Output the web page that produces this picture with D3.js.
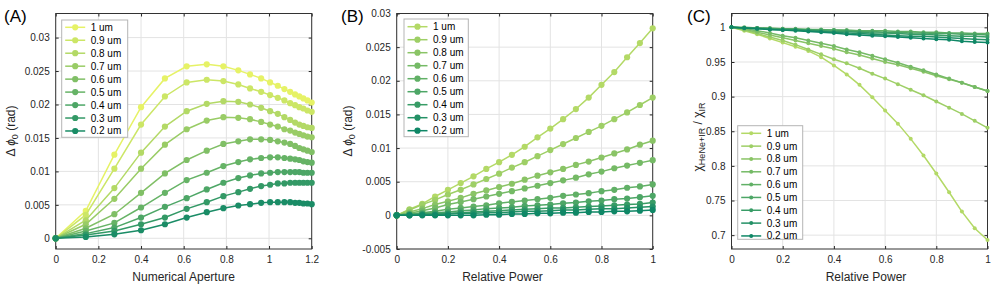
<!DOCTYPE html>
<html>
<head>
<meta charset="utf-8">
<script src="https://cdn.jsdelivr.net/npm/d3@7"></script>
<style>
body { margin: 0; background: #fff; }
svg { display: block; font-family: "Liberation Sans", Arial, sans-serif; }
</style>
</head>
<body>
<svg id="fig" width="997" height="285"></svg>
<script>
// legend labels, same order for all three panels
const sizes = ["1 um", "0.9 um", "0.8 um", "0.7 um", "0.6 um", "0.5 um", "0.4 um", "0.3 um", "0.2 um"]

// (A) phase shift vs numerical aperture
const naValues = [0, 0.141, 0.275, 0.4, 0.512, 0.614, 0.708, 0.786, 0.856, 0.911, 0.963, 1.005, 1.041, 1.072, 1.099, 1.122, 1.142, 1.161, 1.18, 1.2]
const naPhase = [
    [0, 0.0041, 0.0125, 0.0196, 0.0239, 0.0257, 0.0260, 0.0257, 0.0251, 0.0245, 0.0239, 0.0233, 0.0228, 0.0223, 0.0219, 0.0215, 0.0212, 0.0209, 0.0206, 0.0203],
    [0, 0.0035, 0.0104, 0.0170, 0.0212, 0.0233, 0.0237, 0.0235, 0.0230, 0.0224, 0.0219, 0.0214, 0.0210, 0.0206, 0.0202, 0.0199, 0.0196, 0.0194, 0.0191, 0.0189],
    [0, 0.0027, 0.0075, 0.0128, 0.0167, 0.0190, 0.0201, 0.0205, 0.0204, 0.0200, 0.0195, 0.0190, 0.0186, 0.0181, 0.0177, 0.0173, 0.0170, 0.0168, 0.0166, 0.0165],
    [0, 0.0021, 0.0059, 0.0104, 0.0140, 0.0163, 0.0176, 0.0181, 0.0180, 0.0178, 0.0174, 0.0170, 0.0167, 0.0163, 0.0161, 0.0158, 0.0156, 0.0154, 0.0152, 0.0151],
    [0, 0.0015, 0.0036, 0.0068, 0.0097, 0.0117, 0.0131, 0.0141, 0.0145, 0.0148, 0.0148, 0.0147, 0.0145, 0.0143, 0.0141, 0.0138, 0.0135, 0.0133, 0.0131, 0.0129],
    [0, 0.0011, 0.0023, 0.0046, 0.0068, 0.0087, 0.0098, 0.0108, 0.0114, 0.0118, 0.0120, 0.0121, 0.0121, 0.0120, 0.0119, 0.0118, 0.0117, 0.0115, 0.0114, 0.0113],
    [0, 0.0007, 0.0016, 0.0031, 0.0047, 0.0060, 0.0073, 0.0083, 0.0090, 0.0094, 0.0097, 0.0098, 0.0099, 0.0099, 0.0099, 0.0099, 0.0099, 0.0098, 0.0098, 0.0098],
    [0, 0.0005, 0.0011, 0.0021, 0.0031, 0.0044, 0.0054, 0.0063, 0.0069, 0.0074, 0.0078, 0.0080, 0.0082, 0.0082, 0.0083, 0.0083, 0.0083, 0.0083, 0.0083, 0.0083],
    [0, 0.0002, 0.0006, 0.0012, 0.0021, 0.0031, 0.0039, 0.0045, 0.0049, 0.0051, 0.0053, 0.0054, 0.0054, 0.0054, 0.0054, 0.0053, 0.0053, 0.0052, 0.0052, 0.0051]
]

// (B) and (C) share the relative power axis
const powerValues = [0, 0.05, 0.1, 0.15, 0.2, 0.25, 0.3, 0.35, 0.4, 0.45, 0.5, 0.55, 0.6, 0.65, 0.7, 0.75, 0.8, 0.85, 0.9, 0.95, 1]
const powerPhase = [
    [0, 0.0009, 0.0017, 0.0028, 0.0038, 0.0048, 0.0058, 0.0069, 0.0079, 0.0090, 0.0102, 0.0116, 0.0129, 0.0143, 0.0158, 0.0175, 0.0194, 0.0213, 0.0235, 0.0256, 0.0278],
    [0, 0.0008, 0.0016, 0.0023, 0.0031, 0.0038, 0.0046, 0.0054, 0.0062, 0.0071, 0.0079, 0.0088, 0.0097, 0.0106, 0.0115, 0.0124, 0.0133, 0.0143, 0.0153, 0.0164, 0.0175],
    [0, 0.0005, 0.0010, 0.0016, 0.0021, 0.0026, 0.0032, 0.0037, 0.0042, 0.0047, 0.0053, 0.0059, 0.0064, 0.0069, 0.0075, 0.0080, 0.0086, 0.0092, 0.0098, 0.0105, 0.0111],
    [0, 0.0003, 0.0007, 0.0011, 0.0016, 0.0020, 0.0024, 0.0028, 0.0032, 0.0036, 0.0040, 0.0044, 0.0048, 0.0052, 0.0056, 0.0061, 0.0065, 0.0070, 0.0074, 0.0078, 0.0082],
    [0, 0.0002, 0.0004, 0.0006, 0.0009, 0.0011, 0.0013, 0.0015, 0.0018, 0.0020, 0.0022, 0.0024, 0.0026, 0.0029, 0.0031, 0.0033, 0.0036, 0.0038, 0.0041, 0.0043, 0.0046],
    [0, 0.0001, 0.0003, 0.0004, 0.0005, 0.0007, 0.0008, 0.0010, 0.0011, 0.0012, 0.0014, 0.0015, 0.0016, 0.0018, 0.0019, 0.0021, 0.0022, 0.0024, 0.0025, 0.0027, 0.0029],
    [0, 0.0001, 0.0002, 0.0003, 0.0003, 0.0004, 0.0005, 0.0006, 0.0007, 0.0008, 0.0009, 0.0010, 0.0011, 0.0011, 0.0012, 0.0013, 0.0014, 0.0015, 0.0016, 0.0017, 0.0019],
    [0, 0.0000, 0.0001, 0.0001, 0.0002, 0.0003, 0.0003, 0.0004, 0.0004, 0.0005, 0.0006, 0.0006, 0.0007, 0.0008, 0.0008, 0.0009, 0.0010, 0.0010, 0.0011, 0.0012, 0.0013],
    [0, 0, 0, 0, 0, 0, 0, 0.0001, 0.0001, 0.0002, 0.0002, 0.0003, 0.0003, 0.0004, 0.0004, 0.0005, 0.0005, 0.0006, 0.0006, 0.0007, 0.0008]
]
const powerRatio = [
    [1, 0.995, 0.990, 0.984, 0.978, 0.972, 0.966, 0.957, 0.945, 0.932, 0.917, 0.899, 0.880, 0.861, 0.839, 0.815, 0.789, 0.762, 0.734, 0.710, 0.693],
    [1, 0.996, 0.991, 0.986, 0.981, 0.975, 0.968, 0.961, 0.954, 0.948, 0.941, 0.933, 0.926, 0.918, 0.910, 0.902, 0.893, 0.884, 0.875, 0.865, 0.855],
    [1, 0.997, 0.993, 0.989, 0.985, 0.981, 0.977, 0.973, 0.969, 0.964, 0.960, 0.955, 0.950, 0.946, 0.941, 0.936, 0.930, 0.925, 0.920, 0.914, 0.908],
    [1, 0.998, 0.995, 0.992, 0.988, 0.985, 0.981, 0.977, 0.973, 0.968, 0.964, 0.959, 0.954, 0.949, 0.943, 0.938, 0.932, 0.926, 0.920, 0.914, 0.908],
    [1, 1.000, 0.999, 0.999, 0.998, 0.998, 0.997, 0.997, 0.996, 0.996, 0.995, 0.995, 0.995, 0.994, 0.994, 0.993, 0.993, 0.992, 0.992, 0.991, 0.991],
    [1, 0.999, 0.999, 0.998, 0.998, 0.997, 0.997, 0.996, 0.996, 0.995, 0.994, 0.994, 0.993, 0.993, 0.992, 0.992, 0.991, 0.991, 0.990, 0.990, 0.989],
    [1, 0.999, 0.999, 0.998, 0.997, 0.997, 0.996, 0.995, 0.994, 0.994, 0.993, 0.992, 0.992, 0.991, 0.990, 0.990, 0.989, 0.988, 0.987, 0.987, 0.986],
    [1, 0.999, 0.998, 0.997, 0.996, 0.996, 0.995, 0.994, 0.993, 0.992, 0.991, 0.990, 0.989, 0.988, 0.987, 0.987, 0.986, 0.985, 0.984, 0.983, 0.982],
    [1, 0.999, 0.998, 0.997, 0.996, 0.995, 0.994, 0.993, 0.992, 0.990, 0.989, 0.988, 0.987, 0.986, 0.985, 0.984, 0.983, 0.982, 0.980, 0.979, 0.978]
]

const naTicks = [0, 0.2, 0.4, 0.6, 0.8, 1, 1.2]
const powerTicks = [0, 0.2, 0.4, 0.6, 0.8, 1]
const phaseTicksA = [0, 0.005, 0.01, 0.015, 0.02, 0.025, 0.03]
const phaseTicksB = [-0.005, 0, 0.005, 0.01, 0.015, 0.02, 0.025, 0.03]
const ratioTicks = [0.7, 0.75, 0.8, 0.85, 0.9, 0.95, 1]

// matlab "summer" colormap
const summer = t => d3.rgb(255 * t, 255 * (0.5 + 0.5 * t), 102).formatHex()
const colorsA = [0.9, 0.8, 0.7, 0.6, 0.5, 0.4, 0.3, 0.2, 0.1].map(summer)
const colorsBC = [0.7, 0.62, 0.54, 0.46, 0.38, 0.3, 0.22, 0.14, 0.06].map(summer)

const svg = d3.select("#fig")
const TEXT = "#262626"
const TOP = 13.5, BOTTOM = 249

function drawPanel(p) {
    const x = d3.scaleLinear().domain(p.xDomain).range([p.left, p.right])
    const y = d3.scaleLinear().domain(p.yDomain).range([BOTTOM, TOP])
    const g = svg.append("g")

    // grid
    g.append("g").attr("stroke", "#e3e3e3").attr("stroke-width", 1)
        .selectAll("line").data(p.xTicks).join("line")
        .attr("x1", d => x(d)).attr("x2", d => x(d)).attr("y1", TOP).attr("y2", BOTTOM)
    g.append("g").attr("stroke", "#e3e3e3").attr("stroke-width", 1)
        .selectAll("line").data(p.yTicks).join("line")
        .attr("x1", p.left).attr("x2", p.right).attr("y1", d => y(d)).attr("y2", d => y(d))

    // axes, ticks pointing inward on all four sides
    const axes = [
        [d3.axisBottom(x).tickValues(p.xTicks).tickFormat(d => String(d)), `translate(0,${BOTTOM})`],
        [d3.axisTop(x).tickValues(p.xTicks).tickFormat(""), `translate(0,${TOP})`],
        [d3.axisLeft(y).tickValues(p.yTicks).tickFormat(d => String(d)), `translate(${p.left},0)`],
        [d3.axisRight(y).tickValues(p.yTicks).tickFormat(""), `translate(${p.right},0)`]
    ]
    axes.forEach(([ax, tr], i) => {
        const a = g.append("g").attr("transform", tr)
            .call(ax.tickSizeInner(-3).tickSizeOuter(0).tickPadding(i == 0 ? 7 : 6))
        a.select(".domain").remove()
        a.selectAll("line").attr("stroke", TEXT)
        a.selectAll("text").attr("fill", TEXT).attr("font-size", 10)
            .attr("font-family", "Liberation Sans, Arial, sans-serif")
    })

    g.append("rect")
        .attr("x", p.left).attr("y", TOP)
        .attr("width", p.right - p.left).attr("height", BOTTOM - TOP)
        .attr("fill", "none").attr("stroke", "#333").attr("stroke-width", 1)

    // series
    const line = d3.line().x(d => x(d[0])).y(d => y(d[1]))
    p.series.forEach((vals, i) => {
        const pts = p.xs.map((v, j) => [v, vals[j]])
        g.append("path").datum(pts)
            .attr("d", line).attr("fill", "none")
            .attr("stroke", p.colors[i]).attr("stroke-width", 1.5)
        g.append("g").selectAll("circle").data(pts).join("circle")
            .attr("cx", d => x(d[0])).attr("cy", d => y(d[1]))
            .attr("r", p.r).attr("fill", p.colors[i])
    })

    // legend
    const L = p.legend
    const lg = g.append("g")
    lg.append("rect").attr("x", L.x).attr("y", L.y).attr("width", L.w).attr("height", L.h)
        .attr("fill", "#fff").attr("stroke", "#b5b5b5").attr("stroke-width", 1)
    sizes.forEach((s, i) => {
        const yy = L.y + L.first + i * L.step
        lg.append("line").attr("x1", L.x + 3.5).attr("x2", L.x + 23.5)
            .attr("y1", yy).attr("y2", yy)
            .attr("stroke", p.colors[i]).attr("stroke-width", 1.5)
        lg.append("circle").attr("cx", L.x + 13.5).attr("cy", yy).attr("r", p.r)
            .attr("fill", p.colors[i])
        lg.append("text").attr("x", L.x + 29).attr("y", yy).attr("dy", "0.35em")
            .attr("font-size", 10).attr("fill", "#000").text(s)
    })

    // axis titles
    g.append("text").attr("x", p.xTitleX).attr("y", 281)
        .attr("text-anchor", "middle").attr("font-size", 12).attr("fill", TEXT)
        .text(p.xTitle)
    const yt = g.append("text")
        .attr("transform", `translate(${p.yTitleX},${p.yTitleY}) rotate(-90)`)
        .attr("text-anchor", "middle").attr("dy", "0.35em")
        .attr("font-size", 12).attr("fill", TEXT)
    p.yTitle(yt)

    g.append("text").attr("x", p.tagX).attr("y", 22)
        .attr("font-size", 17).attr("fill", "#000").text(p.tag)
}

const phaseTitle = t => {
    t.append("tspan").text("Δ ")
    t.append("tspan").attr("font-style", "italic").text("ϕ")
    t.append("tspan").attr("font-size", 9).attr("dy", 3).text("0")
    t.append("tspan").attr("dy", -3).text(" (rad)")
}

drawPanel({
    tag: "(A)", tagX: 4,
    left: 55.7, right: 311.7,
    xDomain: [0, 1.2], yDomain: [-0.0016, 0.0336],
    xTicks: naTicks, yTicks: phaseTicksA,
    xs: naValues, series: naPhase, colors: colorsA, r: 3.1,
    legend: { x: 61.7, y: 20, w: 66, h: 117.3, first: 7.3, step: 12.96 },
    xTitle: "Numerical Aperture", xTitleX: 183.7,
    yTitle: phaseTitle, yTitleX: 11, yTitleY: 131
})

drawPanel({
    tag: "(B)", tagX: 341,
    left: 396.7, right: 652.7,
    xDomain: [0, 1], yDomain: [-0.005, 0.03],
    xTicks: powerTicks, yTicks: phaseTicksB,
    xs: powerValues, series: powerPhase, colors: colorsBC, r: 3.1,
    legend: { x: 404, y: 19, w: 64.3, h: 117.7, first: 7.7, step: 13 },
    xTitle: "Relative Power", xTitleX: 502.5,
    yTitle: phaseTitle, yTitleX: 348, yTitleY: 131
})

drawPanel({
    tag: "(C)", tagX: 687,
    left: 731.5, right: 987.5,
    xDomain: [0, 1], yDomain: [0.68, 1.02],
    xTicks: powerTicks, yTicks: ratioTicks,
    xs: powerValues, series: powerRatio, colors: colorsBC, r: 2,
    legend: { x: 737.7, y: 125.7, w: 65, h: 113.6, first: 7.6, step: 12.83 },
    xTitle: "Relative Power", xTitleX: 866,
    yTitle: t => {
        t.append("tspan").text("χ")
        t.append("tspan").attr("font-size", 9).attr("dy", 3).text("HeNe+IR")
        t.append("tspan").attr("dy", -3).text(" / χ")
        t.append("tspan").attr("font-size", 9).attr("dy", 3).text("IR")
    },
    yTitleX: 698, yTitleY: 137
})
</script>
</body>
</html>
